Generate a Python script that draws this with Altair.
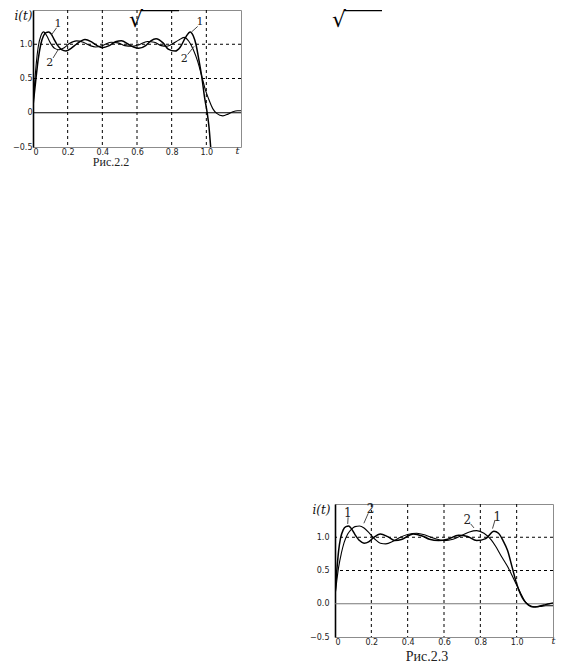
import altair as alt
import pandas as pd

# ---------------- Рис.2.2 (top-left) ----------------
f22_t1 = [0, 0.015, 0.03, 0.045, 0.06, 0.075, 0.09, 0.105, 0.12, 0.14, 0.165, 0.19, 0.22, 0.25,
          0.30, 0.34, 0.37, 0.40, 0.44, 0.48, 0.51, 0.55, 0.58, 0.61, 0.65, 0.68, 0.71, 0.75,
          0.78, 0.82, 0.85, 0.88, 0.907, 0.925, 0.94, 0.955, 0.975, 0.99, 1.005, 1.015, 1.025, 1.035]
f22_v1 = [0.10, 0.45, 0.78, 1.00, 1.12, 1.17, 1.18, 1.15, 1.08, 0.99, 0.92, 0.90, 0.94, 1.00,
          1.07, 1.03, 0.98, 0.95, 0.98, 1.04, 1.05, 1.00, 0.96, 0.94, 0.98, 1.05, 1.08, 1.02,
          0.93, 0.90, 0.96, 1.10, 1.18, 1.12, 1.00, 0.80, 0.50, 0.22, 0.00, -0.20, -0.50, -0.80]
f22_t2 = [0, 0.01, 0.02, 0.03, 0.045, 0.062, 0.08, 0.10, 0.125, 0.15, 0.18, 0.21, 0.25, 0.29,
          0.33, 0.36, 0.40, 0.45, 0.49, 0.53, 0.57, 0.61, 0.66, 0.70, 0.74, 0.77, 0.80, 0.84,
          0.872, 0.90, 0.925, 0.95, 0.975, 0.995, 1.012, 1.037, 1.06, 1.095, 1.125, 1.153, 1.18, 1.2]
f22_v2 = [0.10, 0.45, 0.75, 0.96, 1.12, 1.18, 1.12, 1.02, 0.94, 0.92, 0.95, 1.01, 1.05, 1.03,
          0.98, 0.96, 0.98, 1.03, 1.02, 0.98, 0.97, 0.99, 1.04, 1.03, 0.98, 0.97, 1.00, 1.06,
          1.10, 1.04, 0.92, 0.75, 0.52, 0.33, 0.21, 0.06, -0.01, -0.045, -0.02, 0.015, 0.03, 0.03]
f22_lab_t = [0.144, 0.097, 0.963, 0.872]
f22_lab_v = [1.29, 0.72, 1.33, 0.79]
f22_lab_s = ["1", "2", "1", "2"]
f22_lead_t = [0.136, 0.116, 0.950, 0.892]
f22_lead_v = [1.24, 0.80, 1.26, 0.85]
f22_lead_t2 = [0.107, 0.145, 0.915, 0.930]
f22_lead_v2 = [1.14, 0.92, 1.18, 0.97]

# ---------------- Рис.2.3 (bottom-right) ----------------
f23_t1 = [0, 0.01, 0.02, 0.03, 0.045, 0.06, 0.075, 0.09, 0.11, 0.135, 0.16, 0.185, 0.21, 0.25,
          0.29, 0.33, 0.37, 0.43, 0.48, 0.52, 0.57, 0.62, 0.68, 0.73, 0.78, 0.83, 0.875, 0.90,
          0.925, 0.95, 0.975, 1.0, 1.02, 1.04, 1.065, 1.09, 1.12, 1.15, 1.18, 1.2]
f23_v1 = [0.12, 0.50, 0.80, 0.98, 1.11, 1.16, 1.17, 1.13, 1.04, 0.95, 0.91, 0.93, 0.99, 1.05,
          1.01, 0.95, 0.97, 1.05, 1.02, 0.97, 0.95, 0.97, 1.03, 1.01, 0.95, 0.98, 1.09, 1.06,
          0.95, 0.80, 0.55, 0.30, 0.15, 0.05, -0.02, -0.05, -0.04, -0.02, 0.00, 0.01]
f23_t2 = [0, 0.01, 0.02, 0.035, 0.05, 0.07, 0.09, 0.11, 0.135, 0.16, 0.19, 0.22, 0.25, 0.28,
          0.32, 0.36, 0.40, 0.45, 0.50, 0.55, 0.60, 0.65, 0.70, 0.74, 0.78, 0.82, 0.86, 0.885,
          0.91, 0.93, 0.95, 0.97, 0.995, 1.02, 1.05, 1.075, 1.10, 1.13, 1.16, 1.2]
f23_v2 = [0.12, 0.35, 0.55, 0.76, 0.92, 1.05, 1.12, 1.16, 1.17, 1.14, 1.06, 0.97, 0.91, 0.90,
          0.94, 1.00, 1.04, 1.06, 1.03, 0.98, 0.95, 0.97, 1.03, 1.08, 1.10, 1.06, 0.96, 0.86,
          0.74, 0.65, 0.56, 0.45, 0.31, 0.17, 0.02, -0.03, -0.045, -0.04, -0.03, -0.03]
f23_lab_t = [0.071, 0.196, 0.729, 0.894]
f23_lab_v = [1.36, 1.42, 1.26, 1.31]
f23_lab_s = ["1", "2", "2", "1"]
f23_lead_t = [0.072, 0.183, 0.747, 0.881]
f23_lead_v = [1.30, 1.36, 1.20, 1.26]
f23_lead_t2 = [0.070, 0.159, 0.765, 0.867]
f23_lead_v2 = [1.20, 1.21, 1.14, 1.13]

# shared axis settings
x_ticks = [0, 0.2, 0.4, 0.6, 0.8, 1.0]
y_ticks = [-0.5, 0, 0.5, 1.0]
x_grid = [0.2, 0.4, 0.6, 0.8, 1.0]
y_grid = [0.5, 1.0]
zero_line = [0]
x_domain = [0, 1.2]
y_domain = [-0.5, 1.5]


def panel(t1, v1, t2, v2, lab_t, lab_v, lab_s, ld_t, ld_v, ld_t2, ld_v2,
          w, h, caption, cap_size, cap_dx, cap_offset, zero_text, zero_color,
          ylab_pad, ytitle_x, t_x, lab_size, extra=None):
    xs = alt.Scale(domain=x_domain, nice=False, zero=False)
    ys = alt.Scale(domain=y_domain, nice=False, zero=False)
    d1 = pd.DataFrame({"t": t1, "v": v1})
    d2 = pd.DataFrame({"t": t2, "v": v2})
    xaxis = alt.Axis(values=x_ticks, grid=False, ticks=False, domain=False,
                     labelExpr="datum.value == 0 ? '0' : format(datum.value, '.1f')",
                     labelFont="DejaVu Sans", labelFontSize=8, labelColor="#222",
                     labelPadding=1, title="t", titleFont="DejaVu Serif",
                     titleFontStyle="italic", titleFontWeight="normal", titleFontSize=10,
                     titleX=t_x, titleY=3, titleBaseline="middle", titleAlign="center",
                     titleColor="#222")
    yaxis = alt.Axis(values=y_ticks, grid=False, ticks=False, domain=True,
                     domainColor="black", domainWidth=1.6,
                     labelExpr="datum.value == 0 ? '" + zero_text + "' : format(datum.value, '.1f')",
                     labelFont="DejaVu Sans", labelFontSize=8, labelColor="#222",
                     labelPadding=ylab_pad, title="i(t)", titleAngle=0,
                     titleFont="DejaVu Serif", titleFontStyle="italic",
                     titleFontWeight="normal", titleFontSize=12, titleAlign="right",
                     titleBaseline="middle", titleX=ytitle_x, titleY=5, titleColor="#111")
    line1 = alt.Chart(d1).mark_line(color="black", strokeWidth=1.5, clip=True,
                                    interpolate="monotone").encode(
        x=alt.X("t:Q", scale=xs, axis=xaxis),
        y=alt.Y("v:Q", scale=ys, axis=yaxis),
        order="t:Q",
    )
    line2 = alt.Chart(d2).mark_line(color="black", strokeWidth=1.1, clip=True,
                                    interpolate="monotone").encode(
        x=alt.X("t:Q", scale=xs), y=alt.Y("v:Q", scale=ys), order="t:Q")
    vgrid = alt.Chart(pd.DataFrame({"t": x_grid})).mark_rule(
        color="black", strokeWidth=1, strokeDash=[3, 3]).encode(x=alt.X("t:Q", scale=xs))
    hgrid = alt.Chart(pd.DataFrame({"v": y_grid})).mark_rule(
        color="black", strokeWidth=1, strokeDash=[3, 3]).encode(y=alt.Y("v:Q", scale=ys))
    zline = alt.Chart(pd.DataFrame({"v": zero_line})).mark_rule(
        color=zero_color, strokeWidth=1.2).encode(y=alt.Y("v:Q", scale=ys))
    lead = alt.Chart(pd.DataFrame({"t": ld_t, "v": ld_v, "t2": ld_t2, "v2": ld_v2})).mark_rule(
        color="#333", strokeWidth=0.9).encode(
        x=alt.X("t:Q", scale=xs), y=alt.Y("v:Q", scale=ys), x2="t2:Q", y2="v2:Q")
    labs = alt.Chart(pd.DataFrame({"t": lab_t, "v": lab_v, "s": lab_s})).mark_text(
        font="DejaVu Serif", fontSize=lab_size, color="#222", baseline="middle",
        align="center").encode(x=alt.X("t:Q", scale=xs), y=alt.Y("v:Q", scale=ys), text="s:N")
    layers = [vgrid, hgrid, zline, line2, line1, lead, labs]
    if extra:
        layers += extra
    return alt.layer(*layers).properties(
        width=w, height=h,
        view=alt.ViewBackground(stroke="#8c8c8c", strokeWidth=1),
        title=alt.Title(caption, orient="bottom", anchor="middle", dx=cap_dx,
                        offset=cap_offset, font="Liberation Serif", fontSize=cap_size,
                        fontWeight="normal", color="#222"),
    )


# radical signs cut off at the top of the page (decorative text fragments)
rad = []
for px in [96, 299]:
    rad.append(alt.Chart(pd.DataFrame({"s": ["\u221a"]})).mark_text(
        font="DejaVu Serif", fontSize=22, align="left", baseline="top", color="black").encode(
        x=alt.value(px), y=alt.value(0), text="s:N"))
    rad.append(alt.Chart(pd.DataFrame({"s": ["a"]})).mark_rule(
        color="black", strokeWidth=1.2).encode(
        x=alt.value(px + 12), x2=alt.value(px + 50), y=alt.value(0.6)))

c1 = panel(f22_t1, f22_v1, f22_t2, f22_v2, f22_lab_t, f22_lab_v, f22_lab_s,
           f22_lead_t, f22_lead_v, f22_lead_t2, f22_lead_v2,
           w=208, h=137, caption="Рис.2.2", cap_size=12, cap_dx=-26, cap_offset=1,
           zero_text="0", zero_color="black", ylab_pad=1, ytitle_x=-1, t_x=204,
           lab_size=11, extra=rad)
c2 = panel(f23_t1, f23_v1, f23_t2, f23_v2, f23_lab_t, f23_lab_v, f23_lab_s,
           f23_lead_t, f23_lead_v, f23_lead_t2, f23_lead_v2,
           w=218, h=133, caption="Рис.2.3", cap_size=14, cap_dx=-17, cap_offset=4,
           zero_text="0.0", zero_color="#777", ylab_pad=6, ytitle_x=-5, t_x=218,
           lab_size=12)


def blank(w, h):
    return alt.Chart(pd.DataFrame({"a": [0]})).mark_point(opacity=0).properties(
        width=w, height=h, view=alt.ViewBackground(strokeOpacity=0))


chart = alt.concat(c1, blank(10, 494), blank(302, 10), c2, columns=2, spacing=0,
                   bounds="flush", align="each").properties(
    padding={"left": 4, "top": 0, "right": 0, "bottom": 0},
    background="white",
)

chart.save("out.html", embed_options={"renderer": "svg", "actions": False})
